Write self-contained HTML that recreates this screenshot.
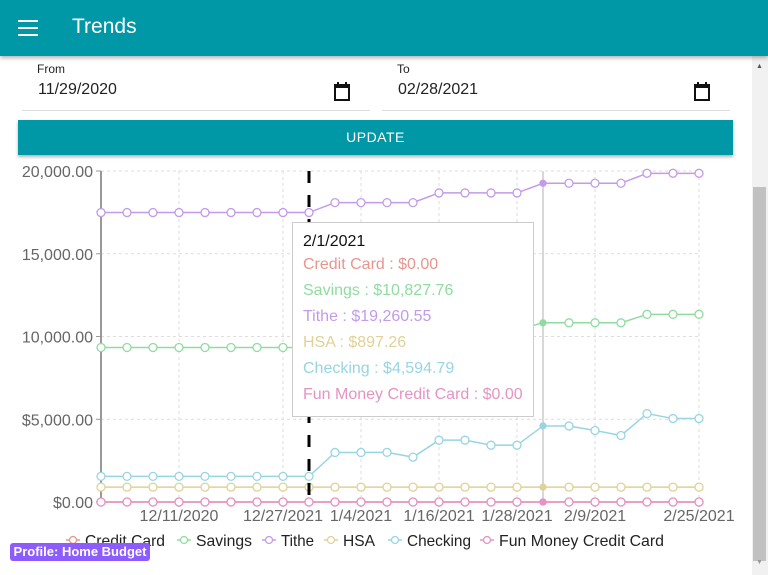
<!DOCTYPE html>
<html><head><meta charset="utf-8"><style>
body{margin:0;width:768px;height:575px;overflow:hidden;font-family:"Liberation Sans",sans-serif;background:#fff;position:relative}
.hdr{position:absolute;left:0;top:0;width:768px;height:56px;background:#0097a7;box-shadow:0 2px 4px rgba(0,0,0,.3);z-index:2}
.abs{position:absolute}
</style></head><body>
<div class="hdr">
  <div class="abs" style="left:18px;top:20px;width:20px;height:16px">
    <div style="height:2px;background:#fff;margin-bottom:5px"></div><div style="height:2px;background:#fff;margin-bottom:5px"></div><div style="height:2px;background:#fff"></div>
  </div>
  <div class="abs" style="left:72px;top:15px;color:#fff;font-size:21px">Trends</div>
</div>
<div class="abs" style="left:752px;top:56px;width:16px;height:519px;background:#f1f1f1">
  <div style="position:absolute;left:1px;top:131px;width:13px;height:374px;background:#c1c1c1"></div>
  <div style="position:absolute;left:4px;top:7px;font-size:7px;color:#555">▲</div>
  <div style="position:absolute;left:4px;top:503px;font-size:7px;color:#999">▼</div>
</div>
<div class="abs" style="left:22px;top:60px;width:348px;height:50px;border-bottom:1px solid #ddd">
  <div class="abs" style="left:15px;top:2px;font-size:12px;color:#222">From</div>
  <div class="abs" style="left:16px;top:21px;font-size:16px;color:#222">11/29/2020</div>
  <svg class="abs" style="left:311px;top:22px" width="18" height="19"><rect x="2" y="3" width="14" height="15" fill="none" stroke="#111" stroke-width="2"/><rect x="2" y="3" width="14" height="3" fill="#111"/><rect x="4" y="0" width="2" height="4" fill="#111"/><rect x="12" y="0" width="2" height="4" fill="#111"/></svg>
</div>
<div class="abs" style="left:382px;top:60px;width:348px;height:50px;border-bottom:1px solid #ddd">
  <div class="abs" style="left:15px;top:2px;font-size:12px;color:#222">To</div>
  <div class="abs" style="left:16px;top:21px;font-size:16px;color:#222">02/28/2021</div>
  <svg class="abs" style="left:311px;top:22px" width="18" height="19"><rect x="2" y="3" width="14" height="15" fill="none" stroke="#111" stroke-width="2"/><rect x="2" y="3" width="14" height="3" fill="#111"/><rect x="4" y="0" width="2" height="4" fill="#111"/><rect x="12" y="0" width="2" height="4" fill="#111"/></svg>
</div>
<div class="abs" style="left:18px;top:120px;width:715px;height:35px;background:#0097a7;color:#fff;font-size:14px;line-height:35px;text-align:center;box-shadow:0 2px 3px rgba(0,0,0,.3);letter-spacing:.5px">UPDATE</div>
<svg class="abs" style="left:0;top:0" width="752" height="575" id="chart"></svg>
<div class="abs" style="left:292px;top:222px;width:240px;height:193px;background:#fff;border:1px solid #ccc;font-size:16px">
  <div class="abs" style="left:10px;top:10px;color:#111">2/1/2021</div>
  <div class="abs" style="left:10px;top:33px;color:#e8958f">Credit Card : $0.00</div>
  <div class="abs" style="left:10px;top:59px;color:#90dca0">Savings : $10,827.76</div>
  <div class="abs" style="left:10px;top:85px;color:#c39be8">Tithe : $19,260.55</div>
  <div class="abs" style="left:10px;top:111px;color:#e0d196">HSA : $897.26</div>
  <div class="abs" style="left:10px;top:137px;color:#97d5e3">Checking : $4,594.79</div>
  <div class="abs" style="left:10px;top:163px;color:#e593c3">Fun Money Credit Card : $0.00</div>
</div>
<div class="abs" style="left:10px;top:543px;width:140px;height:18px;background:#8c5cff;border-radius:3px;color:#fff;font-size:13px;font-weight:bold;line-height:18px;text-align:center">Profile: Home Budget</div>
<script>
const categories=["11/29","12/3","12/7","12/11","12/15","12/19","12/23","12/27","1/1","1/4","1/8","1/12","1/16","1/20","1/24","1/28","1/30","2/1","2/5","2/9","2/13","2/17","2/21","2/25"];
const seriesNames=["Credit Card","Savings","Tithe","HSA","Checking","Fun Money Credit Card"];
const seriesColors=["#e8958f","#90dca0","#c39be8","#e0d196","#97d5e3","#e593c3"];
const creditCard=[0,0,0,0,0,0,0,0,0,0,0,0,0,0,0,0,0,0,0,0,0,0,0,0];
const savings=[9337,9337,9337,9337,9337,9337,9337,9337,9337,9900,9900,9900,9900,10400,10400,10400,10400,10828,10828,10828,10828,11340,11340,11340];
const tithe=[17490,17490,17490,17490,17490,17490,17490,17490,17490,18090,18090,18090,18090,18675,18675,18675,18675,19260,19260,19260,19260,19860,19860,19860];
const hsa=[897,897,897,897,897,897,897,897,897,897,897,897,897,897,897,897,897,897,897,897,897,897,897,897];
const checking=[1548,1548,1548,1548,1548,1548,1548,1548,1548,2994,2994,3000,2710,3735,3735,3434,3434,4595,4595,4319,4018,5343,5042,5042];
const funMoney=[0,0,0,0,0,0,0,0,0,0,0,0,0,0,0,0,0,0,0,0,0,0,0,0];
const yTicks=[0,5000,10000,15000,20000];
const yTickLabels=["$0.00","$5,000.00","10,000.00","15,000.00","20,000.00"];
const xTickIdx=[3,7,10,13,16,19,23];
const xTickLabels=["12/11/2020","12/27/2021","1/4/2021","1/16/2021","1/28/2021","2/9/2021","2/25/2021"];
const hoverIdx=17, markerIdx=8;

const NS="http://www.w3.org/2000/svg";
const svg=document.getElementById('chart');
const X0=101,X1=699,Y0=502,Y1=171;
const xs=i=>X0+(X1-X0)*i/(categories.length-1);
const ys=v=>Y0-(Y0-Y1)*v/20000;
function mk(t,a){const e=document.createElementNS(NS,t);for(const k in a)e.setAttribute(k,a[k]);svg.appendChild(e);return e;}
yTicks.forEach((v,i)=>{
  const g=mk('line',{x1:X0,x2:X1,y1:ys(v),y2:ys(v),stroke:'#ddd','stroke-dasharray':'3,3'});
  
  
  mk('line',{x1:X0-5,x2:X0,y1:ys(v),y2:ys(v),stroke:'#999'});
  const t=mk('text',{x:X0-8,y:ys(v)+6,'text-anchor':'end','font-size':'16',fill:'#666'});
  t.textContent=yTickLabels[i];
  
  
});
xTickIdx.forEach((ix,i)=>{
  const g=mk('line',{x1:xs(ix),x2:xs(ix),y1:Y1,y2:Y0,stroke:'#ddd','stroke-dasharray':'3,3'});
  
  
  mk('line',{x1:xs(ix),x2:xs(ix),y1:Y0,y2:Y0+5,stroke:'#999'});
  const t=mk('text',{x:xs(ix),y:Y0+19,'text-anchor':'middle','font-size':'16',fill:'#666'});
  t.textContent=xTickLabels[i];
  
  
});
mk('line',{x1:X1,x2:X1,y1:Y1,y2:Y0,stroke:'#ddd','stroke-dasharray':'3,3'});
mk('line',{x1:X0,x2:X0,y1:Y1,y2:Y0,stroke:'#999','stroke-width':2});
const hv=mk('line',{x1:xs(hoverIdx),x2:xs(hoverIdx),y1:Y1,y2:Y0,stroke:'#ccc','stroke-width':1.5});


const all=[creditCard,savings,tithe,hsa,checking,funMoney];
[2,1,3,4,0,5].forEach(s=>{
  const d=all[s];
  const p=mk('polyline',{points:d.map((v,i)=>xs(i)+','+ys(v)).join(' '),fill:'none',stroke:seriesColors[s],'stroke-width':1.5});
  
  
  d.forEach((v,i)=>{
    const c=mk('circle',{cx:xs(i),cy:ys(v),r:i==hoverIdx?3:4,fill:i==hoverIdx?seriesColors[s]:'#fff',stroke:seriesColors[s],'stroke-width':1.3});
    
    
  });
});
const mkl=mk('line',{x1:xs(markerIdx),x2:xs(markerIdx),y1:Y1,y2:Y0,stroke:'#000','stroke-width':3,'stroke-dasharray':'12,12'});


// legend
const legX=[73,184,269,331,395,487];
seriesNames.forEach((n,i)=>{
  const lx=legX[i];
  mk('line',{x1:lx-7,x2:lx+7,y1:540,y2:540,stroke:seriesColors[i],'stroke-width':1.5});
  mk('circle',{cx:lx,cy:540,r:3.5,fill:'#fff',stroke:seriesColors[i],'stroke-width':1.3});
  const t=mk('text',{x:lx+12,y:546,'font-size':'16',fill:'#222',textLength:[80,56,33,32,64,165][i],lengthAdjust:'spacingAndGlyphs'});
  t.textContent=n;
  
  
});
</script>
</body></html>
